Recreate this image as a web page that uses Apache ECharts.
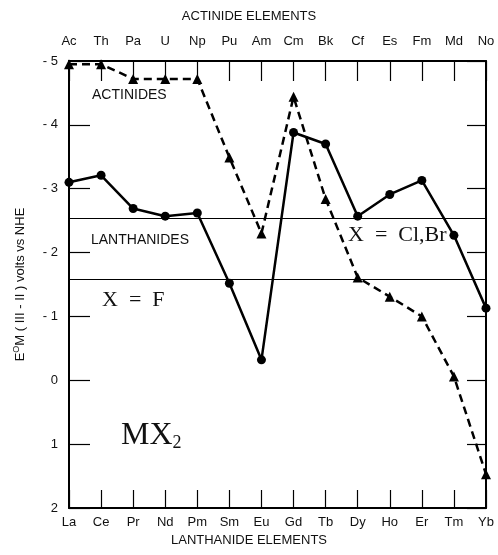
<!DOCTYPE html>
<html>
<head>
<meta charset="utf-8">
<script src="https://cdn.jsdelivr.net/npm/echarts@6/dist/echarts.min.js"></script>
<style>
  html, body { margin: 0; padding: 0; background: #fff; }
  #chart { width: 498px; height: 555px; }
</style>
</head>
<body>
<div id="chart"></div>
<script>
// lanthanides on bottom axis, actinides on top axis
var lanthanides = ['La', 'Ce', 'Pr', 'Nd', 'Pm', 'Sm', 'Eu', 'Gd', 'Tb', 'Dy', 'Ho', 'Er', 'Tm', 'Yb']
var actinides = ['Ac', 'Th', 'Pa', 'U', 'Np', 'Pu', 'Am', 'Cm', 'Bk', 'Cf', 'Es', 'Fm', 'Md', 'No']
// E0 M(III-II) volts vs NHE
var lanValues = [-3.10, -3.21, -2.69, -2.57, -2.62, -1.52, -0.32, -3.88, -3.70, -2.57, -2.91, -3.13, -2.27, -1.13]
var actValues = [-4.95, -4.95, -4.72, -4.72, -4.72, -3.49, -2.30, -4.44, -2.84, -1.61, -1.31, -1.00, -0.06, 1.47]
// MX2 levels
var clBrLevel = -2.53
var fLevel = -1.58
var yTicks = [-5, -4, -3, -2, -1, 0, 1, 2]

var font = 'Liberation Sans'
var serif = 'Liberation Serif'

var dom = echarts.init(document.getElementById('chart'))

var option = {
  animation: false,
  backgroundColor: '#fff',
  grid: { left: 69, right: 12, top: 61, bottom: 47 },
  xAxis: [
    {
      type: 'category',
      position: 'bottom',
      data: lanthanides,
      boundaryGap: false,
      axisLine: { onZero: false, lineStyle: { color: '#000', width: 2 } },
      axisTick: { inside: true, length: 18, lineStyle: { color: '#000', width: 1.2 } },
      axisLabel: { color: '#111', fontFamily: font, fontSize: 13, margin: 8 },
      splitLine: { show: false }
    },
    {
      type: 'category',
      position: 'top',
      data: actinides,
      boundaryGap: false,
      axisLine: { onZero: false, lineStyle: { color: '#000', width: 2 } },
      axisTick: { inside: true, length: 20, lineStyle: { color: '#000', width: 1.2 } },
      axisLabel: { color: '#111', fontFamily: font, fontSize: 13, margin: 13 },
      splitLine: { show: false }
    }
  ],
  yAxis: [
    {
      type: 'value',
      position: 'left',
      inverse: true,
      min: yTicks[0],
      max: yTicks[yTicks.length - 1],
      interval: 1,
      axisLine: { show: true, onZero: false, lineStyle: { color: '#000', width: 2 } },
      axisTick: { show: true, inside: true, length: 21, lineStyle: { color: '#000', width: 1.2 } },
      axisLabel: {
        color: '#111', fontFamily: font, fontSize: 13, margin: 11,
        formatter: function (v) { return v < 0 ? '- ' + Math.abs(v) : String(v) }
      },
      splitLine: { show: false },
      name: '{a|E}{s|O}{a|M ( III - II ) volts vs NHE}',
      nameLocation: 'middle',
      nameGap: 40,
      nameRotate: 90,
      nameTextStyle: {
        rich: {
          a: { fontFamily: font, fontSize: 13, color: '#111' },
          s: { fontFamily: font, fontSize: 9, color: '#111', verticalAlign: 'top', padding: [0, 0, 8, 0] }
        }
      }
    },
    {
      type: 'value',
      position: 'right',
      inverse: true,
      min: yTicks[0],
      max: yTicks[yTicks.length - 1],
      interval: 1,
      axisLine: { show: true, onZero: false, lineStyle: { color: '#000', width: 2 } },
      axisTick: { show: true, inside: true, length: 19, lineStyle: { color: '#000', width: 1.2 } },
      axisLabel: { show: false },
      splitLine: { show: false }
    }
  ],
  series: [
    {
      name: 'Lanthanides',
      type: 'line',
      xAxisIndex: 0,
      yAxisIndex: 0,
      data: lanValues,
      symbol: 'circle',
      symbolSize: 9,
      itemStyle: { color: '#000' },
      lineStyle: { color: '#000', width: 2.5 },
      markLine: {
        silent: true,
        symbol: 'none',
        label: { show: false },
        lineStyle: { color: '#000', width: 1.2, type: 'solid' },
        data: [{ yAxis: clBrLevel }, { yAxis: fLevel }]
      }
    },
    {
      name: 'Actinides',
      type: 'line',
      xAxisIndex: 1,
      yAxisIndex: 0,
      data: actValues,
      symbol: 'triangle',
      symbolSize: 10,
      itemStyle: { color: '#000' },
      lineStyle: { color: '#000', width: 2.5, type: [8, 5] }
    }
  ],
  graphic: [
    { type: 'text', left: 'center', top: 10, style: { text: 'ACTINIDE ELEMENTS', font: '13px "Liberation Sans"', fill: '#111' } },
    { type: 'text', left: 'center', top: 534, style: { text: 'LANTHANIDE ELEMENTS', font: '13px "Liberation Sans"', fill: '#111' } },
    { type: 'text', left: 92, top: 88, style: { text: 'ACTINIDES', font: '14px "Liberation Sans"', fill: '#111' } },
    { type: 'text', left: 91, top: 233, style: { text: 'LANTHANIDES', font: '14px "Liberation Sans"', fill: '#111' } },
    { type: 'text', left: 102, top: 289, style: { text: 'X  =  F', font: '22px "Liberation Serif"', fill: '#111' } },
    { type: 'text', left: 348, top: 224, style: { text: 'X  =  Cl,Br', font: '22px "Liberation Serif"', fill: '#111' } },
    {
      type: 'text', left: 121, top: 420,
      style: {
        text: '{m|MX}{s|2}',
        rich: {
          m: { fontFamily: serif, fontSize: 32, fill: '#111' },
          s: { fontFamily: serif, fontSize: 18, fill: '#111', verticalAlign: 'bottom', padding: [14, 0, 0, 0] }
        }
      }
    }
  ]
}

dom.setOption(option)
</script>
</body>
</html>
